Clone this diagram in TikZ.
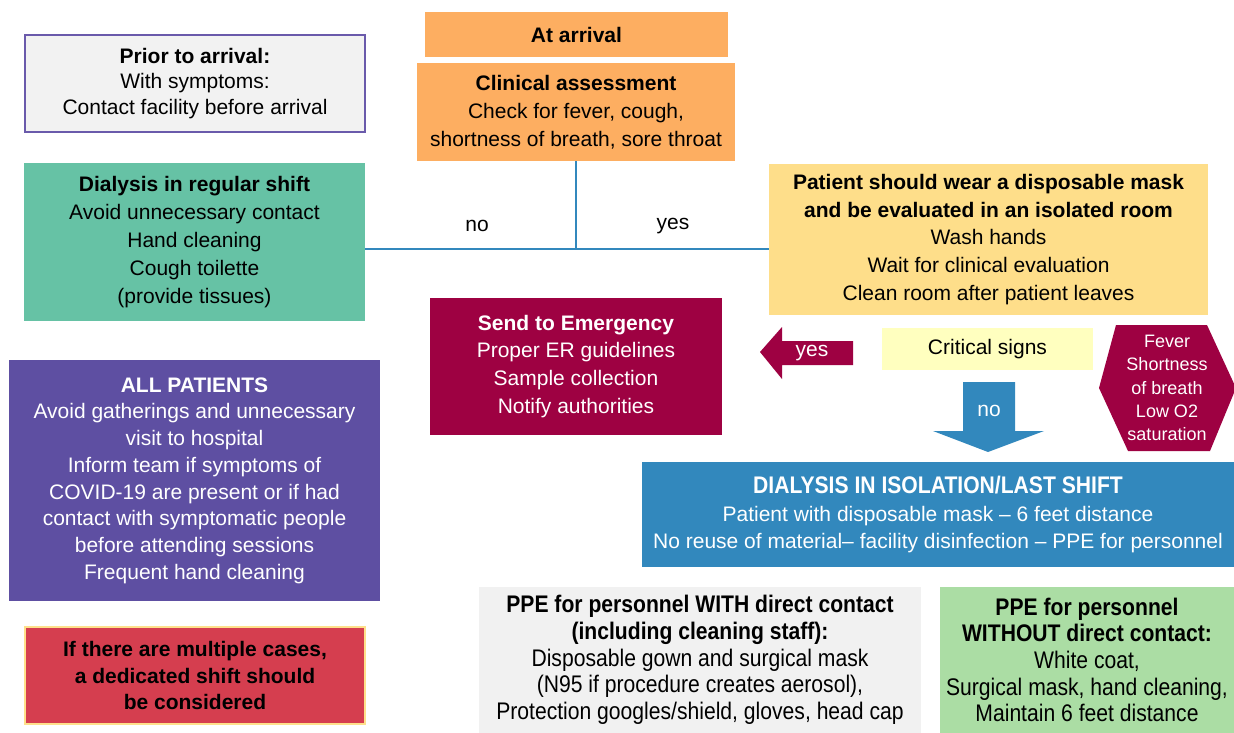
\documentclass[tikz,border=0pt]{standalone}
\usepackage{fontspec}
\setmainfont{Liberation Sans}
\newfontfamily\condfont[FakeStretch=0.88]{Liberation Sans}
\definecolor{cPriorFill}{HTML}{F2F2F2}
\definecolor{cPriorLine}{HTML}{6A5AAB}
\definecolor{cOrange}{HTML}{FDAE61}
\definecolor{cTeal}{HTML}{66C2A5}
\definecolor{cYellow}{HTML}{FEDE8A}
\definecolor{cCrim}{HTML}{9E0142}
\definecolor{cPale}{HTML}{FFFFBF}
\definecolor{cBlue}{HTML}{3288BD}
\definecolor{cPurple}{HTML}{5E4FA2}
\definecolor{cRed}{HTML}{D53E4F}
\definecolor{cRedLine}{HTML}{FEE08B}
\definecolor{cGray}{HTML}{F1F1F1}
\definecolor{cGreen}{HTML}{ABDDA4}
\begin{document}
\begin{tikzpicture}[x=1pt,y=-1pt,
  box/.style={rectangle, inner sep=0pt, align=center, text=black,
    font=\fontsize{21}{27.9}\selectfont},
  condbox/.style={box, font=\condfont\fontsize{24}{26.7}\selectfont},
  conn/.style={draw=cBlue, line width=2.5pt},
  lbl/.style={inner sep=0pt, font=\fontsize{21}{25}\selectfont}
]
\useasboundingbox (0,0) rectangle (1234,733);

% boxes
\node[box, fill=cPriorFill, draw=cPriorLine, line width=2pt,
  minimum width=340pt, minimum height=97pt, font=\fontsize{21}{25.5}\selectfont] (prior) at (195,83.5)
  {{\bfseries Prior to arrival:}\\With symptoms:\\Contact facility before arrival};
\node[box, fill=cOrange, minimum width=303pt, minimum height=45pt] (arrival) at (576.5,34.5)
  {\bfseries At arrival};
\node[box, fill=cOrange, minimum width=318pt, minimum height=98pt] (clin) at (576,112)
  {{\bfseries Clinical assessment}\\Check for fever, cough,\\shortness of breath, sore throat};
\node[box, fill=cTeal, minimum width=341pt, minimum height=158pt] (reg) at (194.5,242)
  {{\bfseries Dialysis in regular shift}\\Avoid unnecessary contact\\Hand cleaning\\Cough toilette\\(provide tissues)};
\node[box, fill=cYellow, minimum width=439pt, minimum height=151pt] (pat) at (988.5,239.5)
  {{\bfseries Patient should wear a disposable mask}\\{\bfseries and be evaluated in an isolated room}\\Wash hands\\Wait for clinical evaluation\\Clean room after patient leaves};
\node[box, fill=cCrim, text=white, minimum width=292pt, minimum height=137pt] (emerg) at (576,366.5)
  {{\bfseries Send to Emergency}\\Proper ER guidelines\\Sample collection\\Notify authorities};
\node[box, fill=cPale, minimum width=211pt, minimum height=42pt] (crit) at (987.5,349)
  {Critical signs};
\node[box, fill=cBlue, text=white, minimum width=592pt, minimum height=105pt] (iso) at (938,514.5)
  {{\condfont\fontsize{24}{26}\selectfont\bfseries DIALYSIS IN ISOLATION/LAST SHIFT}\\Patient with disposable mask -- 6 feet distance\\No reuse of material-- facility disinfection -- PPE for personnel};
\node[box, fill=cPurple, text=white, minimum width=371pt, minimum height=241pt,
  font=\fontsize{21}{26.7}\selectfont] (allp) at (194.5,480.5)
  {{\bfseries ALL PATIENTS}\\Avoid gatherings and unnecessary\\visit to hospital\\Inform team if symptoms of\\COVID-19 are present or if had\\contact with symptomatic people\\before attending sessions\\Frequent hand cleaning};
\node[box, fill=cRed, draw=cRedLine, line width=2.5pt, minimum width=340pt, minimum height=97pt,
  font=\fontsize{21}{26.5}\selectfont\bfseries] (mult) at (195,675.5)
  {If there are multiple cases,\\a dedicated shift should\\be considered};
\node[condbox, fill=cGray, minimum width=442pt, minimum height=146pt] (ppew) at (700,660)
  {{\bfseries PPE for personnel WITH direct contact}\\{\bfseries (including cleaning staff):}\\Disposable gown and surgical mask\\(N95 if procedure creates aerosol),\\Protection googles/shield, gloves, head cap};
\node[condbox, fill=cGreen, minimum width=294pt, minimum height=146pt] (ppewo) at (1087,660)
  {{\bfseries PPE for personnel}\\{\bfseries WITHOUT direct contact:}\\White coat,\\Surgical mask, hand cleaning,\\Maintain 6 feet distance};

% connectors
\coordinate (j) at (576,249);
\draw[conn] (clin.south) -- (j);
\draw[conn] (reg.east |- j) -- (pat.west |- j);
\node[lbl] (lno) at (477,226) {no};
\node[lbl] (lyes) at (673,226) {yes};

% yes block arrow
\fill[cCrim] (760,352) -- (782,327) -- (782,341) -- (853,341) -- (853,365) -- (782,365) -- (782,379) -- cycle;
\node[lbl, text=white] (ayes) at (812,353) {yes};

% no block arrow
\fill[cBlue] (963,382) -- (1015,382) -- (1015,431) -- (1044,431) -- (988,452) -- (933,431) -- (963,431) -- cycle;
\node[lbl, text=white] (ano) at (989,411) {no};

% hexagon
\fill[cCrim] (1116,325) -- (1207,325) -- (1236,388) -- (1210,451) -- (1128,451) -- (1099,388) -- cycle;
\node[box, text=white, font=\fontsize{18}{23.3}\selectfont] (signs) at (1167,388)
  {Fever\\Shortness\\of breath\\Low O2\\saturation};
\end{tikzpicture}
\end{document}
